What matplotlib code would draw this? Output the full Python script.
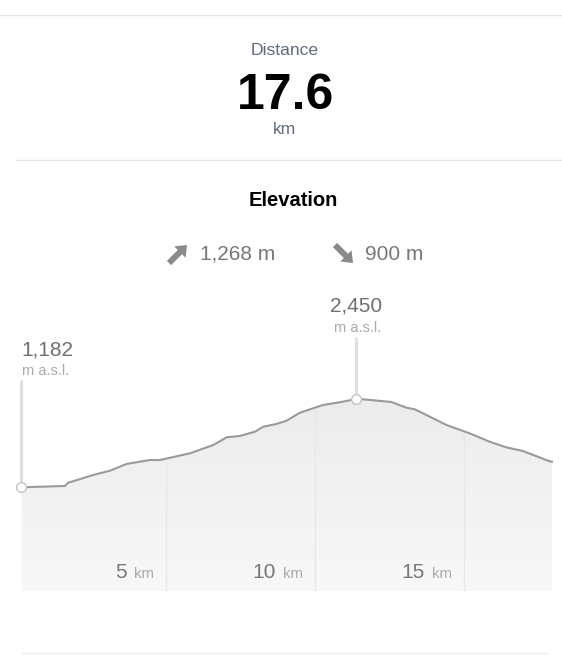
import numpy as np
import matplotlib
matplotlib.use("Agg")
import matplotlib.pyplot as plt
from matplotlib.colors import LinearSegmentedColormap
from matplotlib.patches import FancyArrow

plt.rcParams['font.family'] = ['Liberation Sans', 'DejaVu Sans']

# elevation profile (km, m a.s.l.)
dist = [0.15, 1.61, 1.72, 2.56, 3.12, 3.68, 4.46, 4.80, 5.81, 6.59, 7.04, 7.48,
        7.99, 8.27, 8.71, 9.05, 9.50, 9.94, 10.28, 10.84, 11.40, 11.62, 12.57,
        13.08, 13.36, 13.75, 14.42, 15.20, 15.87, 16.43, 16.99, 17.89, 17.98]
elev = [1182, 1201, 1248, 1359, 1420, 1517, 1574, 1574, 1670, 1789, 1900, 1919,
        1980, 2052, 2091, 2138, 2253, 2316, 2364, 2403, 2450, 2446, 2407,
        2325, 2302, 2220, 2077, 1957, 1837, 1756, 1703, 1555, 1550]
km_ticks = [5, 10, 15]
total_km = "17.6"
ascent = "1,268 m"
descent = "900 m"
start_label = "1,182"
peak_label = "2,450"

dist = np.array(dist)
elev = np.array(elev)

fig = plt.figure(figsize=(5.62, 6.66), dpi=100)
fig.patch.set_facecolor("white")

# background axes in pixel units for the header
bg = fig.add_axes([0, 0, 1, 1])
bg.set_xlim(0, 562)
bg.set_ylim(666, 0)
bg.axis("off")

bg.plot([0, 562], [15, 15], color="#e6e6e6", lw=1)
bg.plot([16, 562], [160, 160], color="#e6e6e6", lw=1)
bg.plot([22, 548], [653, 653], color="#eeeeee", lw=1)

bg.text(285, 55, "Distance", ha="center", va="baseline", fontsize=12.6, color="#5f6b7a")
bg.text(285, 109, total_km, ha="center", va="baseline", fontsize=36,
        fontweight="bold", color="black")
bg.text(285, 134, "km", ha="center", va="baseline", fontsize=12.6, color="#5f6b7a")
bg.text(293, 206, "Elevation", ha="center", va="baseline", fontsize=14.5,
        fontweight="bold", color="black")

bg.add_patch(FancyArrow(169, 263, 18, -18, width=6, head_width=16, head_length=10,
                        length_includes_head=True, color="#8a8a8a", lw=0))
bg.add_patch(FancyArrow(335, 245, 18, 18, width=6, head_width=16, head_length=10,
                        length_includes_head=True, color="#8a8a8a", lw=0))
bg.text(200, 260, ascent, ha="left", va="baseline", fontsize=15, color="#777777")
bg.text(365, 260, descent, ha="left", va="baseline", fontsize=15, color="#777777")

# chart axes
ax = fig.add_axes([17 / 562, (666 - 591) / 666, 536 / 562, 301 / 666])
ax.patch.set_alpha(0)
ybot, ytop = -307, 4015
mpp = (ytop - ybot) / 301.0  # metres per pixel

cmap = LinearSegmentedColormap.from_list("g", ["#f8f8f8", "#ececec"])
grad = np.linspace(0, 1, 256).reshape(-1, 1)
im = ax.imshow(grad, extent=[dist[0], dist[-1], ybot, elev.max()], origin="lower",
               aspect="auto", cmap=cmap, zorder=1)
poly = ax.fill_between(dist, elev, ybot, color="none", lw=0)
im.set_clip_path(poly.get_paths()[0], transform=ax.transData)

ax.vlines(km_ticks, ybot, np.interp(km_ticks, dist, elev), color="#e7e7e7",
          lw=1, zorder=2)
ax.plot(dist, elev, color="#9a9a9a", lw=1.5, zorder=3, solid_joinstyle="round")

# start and peak markers
ipk = int(np.argmax(elev))
for xi, yi, up, lab, ha in [(dist[0], elev[0], 107, start_label, "left"),
                             (dist[ipk], elev[ipk], 62, peak_label, "center")]:
    ax.vlines(xi, yi, yi + up * mpp, color="#dddddd", lw=2, zorder=2, clip_on=False)
    ax.plot([xi], [yi], "o", ms=7, mfc="white", mec="#c4c4c4", mew=1,
            zorder=4, clip_on=False)
    ax.annotate(lab, (xi, yi), xytext=(0, up + 25), textcoords="offset pixels",
                ha=ha, va="baseline", fontsize=15, color="#707070",
                annotation_clip=False)
    ax.annotate("m a.s.l.", (xi, yi), xytext=(1, up + 5), textcoords="offset pixels",
                ha=ha, va="baseline", fontsize=10.5, color="#aaaaaa",
                annotation_clip=False)

for t in km_ticks:
    ax.annotate("km", (t, ybot), xytext=(-12, 13), textcoords="offset pixels",
                ha="right", va="baseline", fontsize=10.8, color="#aaaaaa")
    ax.annotate(str(t), (t, ybot), xytext=(-39, 13), textcoords="offset pixels",
                ha="right", va="baseline", fontsize=15, color="#777777")

ax.set_xlim(0, 18.0)
ax.set_ylim(ybot, ytop)
ax.axis("off")

fig.savefig("out.png", dpi=100, facecolor="white")
